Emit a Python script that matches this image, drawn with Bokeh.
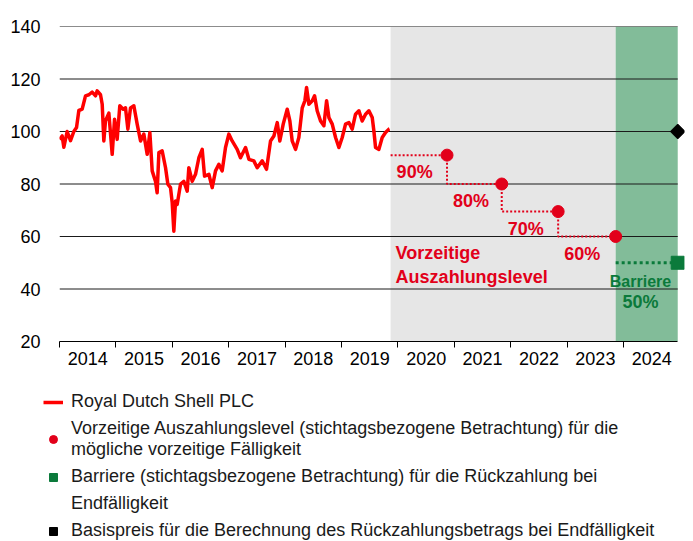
from bokeh.plotting import figure
from bokeh.layouts import column
from bokeh.models import Range1d, FixedTicker, BoxAnnotation, Legend, LegendItem
from bokeh.core.properties import value
from bokeh.embed import file_html
from bokeh.resources import INLINE

# ---------------- data ----------------
dates = [2014.000, 2014.047, 2014.077, 2014.136, 2014.195, 2014.254, 2014.302, 2014.343, 2014.402, 2014.461,
         2014.521, 2014.579, 2014.639, 2014.668, 2014.727, 2014.757, 2014.786, 2014.815, 2014.875, 2014.934,
         2014.976, 2015.022, 2015.069, 2015.129, 2015.170, 2015.212, 2015.259, 2015.318, 2015.377, 2015.437,
         2015.495, 2015.555, 2015.602, 2015.643, 2015.702, 2015.731, 2015.762, 2015.820, 2015.880, 2015.921,
         2015.968, 2015.998, 2016.027, 2016.057, 2016.086, 2016.146, 2016.204, 2016.264, 2016.293, 2016.353,
         2016.411, 2016.471, 2016.530, 2016.571, 2016.648, 2016.707, 2016.766, 2016.825, 2016.884, 2016.943,
         2017.002, 2017.061, 2017.150, 2017.209, 2017.298, 2017.358, 2017.445, 2017.505, 2017.594, 2017.670,
         2017.741, 2017.801, 2017.860, 2017.906, 2017.966, 2018.037, 2018.084, 2018.125, 2018.185, 2018.243,
         2018.303, 2018.350, 2018.380, 2018.421, 2018.481, 2018.522, 2018.568, 2018.628, 2018.687, 2018.735,
         2018.776, 2018.835, 2018.894, 2018.953, 2019.012, 2019.071, 2019.130, 2019.189, 2019.248, 2019.308,
         2019.366, 2019.426, 2019.485, 2019.544, 2019.573, 2019.603, 2019.662, 2019.721, 2019.780, 2019.840,
         2019.851]
prices = [97, 98.3, 94, 100, 96.5, 100, 101.5, 108, 108.5, 113.6,
          114, 115, 113.6, 115.5, 114, 110.4, 96.4, 104, 107, 91.3,
          104.7, 97, 109.8, 108.5, 109, 100.9, 109, 109.8, 102.8, 96.4,
          99, 91.3, 99.6, 85, 81, 76.7, 92, 92.6, 86.2, 79.9,
          78.6, 72.9, 62, 73.5, 72.2, 80, 81, 77.3, 86.2, 81,
          83.7, 90, 93.2, 83, 83.7, 78.6, 85, 87.5, 85, 93.9,
          99, 96.4, 93.2, 90, 93.9, 89.4, 88.8, 86.2, 88.8, 85.6,
          96.4, 98.3, 103.4, 96.4, 102.8, 108.5, 104, 96.4, 93.2, 97.7,
          109, 111.7, 116.8, 110.4, 111.7, 113.6, 107.9, 104, 102.2, 111.7,
          105.3, 102.8, 97.7, 93.9, 97.7, 102.8, 103.4, 100.9, 106.6, 107.9,
          104, 106.6, 107.9, 105.3, 100.3, 93.9, 93.2, 97.7, 99.6, 100.9,
          101]

product_start = 2019.87
obs_dates = [2020.87, 2021.84, 2022.84, 2023.86]
autocall_levels = [91, 80, 69.5, 60]
autocall_labels = ["90%", "80%", "70%", "60%"]
maturity = 2024.96
barrier_level = 50
strike_level = 100
years = [2014, 2015, 2016, 2017, 2018, 2019, 2020, 2021, 2022, 2023, 2024]
year_labels = ["2014", "2015", "2016", "2017", "2018", "2019", "2020", "2021", "2022", "2023", "2024"]
y_ticks = [20, 40, 60, 80, 100, 120, 140]
legend_labels = [
    "Royal Dutch Shell PLC",
    "Vorzeitige Auszahlungslevel (stichtagsbezogene Betrachtung) für die\nmögliche vorzeitige Fälligkeit",
    "Barriere (stichtagsbezogene Betrachtung) für die Rückzahlung bei",
    "Endfälligkeit",
    "Basispreis für die Berechnung des Rückzahlungsbetrags bei Endfälligkeit",
]

# ---------------- styling ----------------
FONT = "Liberation Sans"
RED_LINE = "#FF0000"
RED = "#E2001A"
GREEN = "#0B7A3B"
GREY_BAND = "#E6E6E6"
GREEN_BAND = "#82BC99"
H_MAIN = 375

p = figure(width=693, height=H_MAIN,
           x_range=Range1d(2014, 2025.08), y_range=Range1d(20, 140),
           output_backend="svg", toolbar_location=None,
           min_border_left=59, min_border_right=9, min_border_top=26,
           min_border_bottom=H_MAIN - 341)
p.frame_align = False
p.outline_line_color = None
p.xgrid.visible = False
p.ygrid.visible = False

# bands
p.add_layout(BoxAnnotation(left=product_start, right=obs_dates[-1], fill_color=GREY_BAND,
                           fill_alpha=1, line_color=None, level="underlay"))
p.add_layout(BoxAnnotation(left=obs_dates[-1], right=maturity, fill_color=GREEN_BAND,
                           fill_alpha=1, line_color=None, level="underlay"))

# horizontal grid lines (drawn over the bands)
grid_y = y_ticks[1:]
p.segment(x0=[years[0]] * len(grid_y), x1=[maturity] * len(grid_y), y0=grid_y, y1=grid_y,
          line_color="#1a1a1a", line_width=1)

# price line
p.line(dates, prices, line_color=RED_LINE, line_width=3.5, line_join="round")

# autocall step
step_x = [product_start]
step_y = [autocall_levels[0]]
for i, d in enumerate(obs_dates):
    step_x.append(d)
    step_y.append(autocall_levels[i])
    if i + 1 < len(obs_dates):
        step_x.append(d)
        step_y.append(autocall_levels[i + 1])
p.line(step_x, step_y, line_color=RED, line_width=2, line_dash="2 2")
p.scatter(obs_dates, autocall_levels, size=12, color=RED)

seg_starts = [product_start] + obs_dates[:-1]
p.text(x=seg_starts, y=autocall_levels, text=autocall_labels, x_offset=6, y_offset=17,
       text_font=value(FONT), text_font_size="18px", text_font_style="bold",
       text_color=RED, text_baseline="middle", text_align="left")
p.text(x=[product_start], y=[49], text=["Vorzeitige\nAuszahlungslevel"], x_offset=5,
       text_font=value(FONT), text_font_size="18px", text_font_style="bold",
       text_color=RED, text_baseline="middle", text_align="left", text_line_height=1.2)

# barrier
p.line([obs_dates[-1], maturity], [barrier_level, barrier_level], line_color=GREEN,
       line_width=3, line_dash="3 3")
p.scatter([maturity], [barrier_level], marker="square", size=13, color=GREEN)
p.text(x=[2024.3], y=[42.9], text=["Barriere"], text_font=value(FONT), text_font_size="16px",
       text_font_style="bold", text_color=GREEN, text_baseline="middle", text_align="center")
p.text(x=[2024.3], y=[35], text=["50%"], text_font=value(FONT), text_font_size="18px",
       text_font_style="bold", text_color=GREEN, text_baseline="middle", text_align="center")

# strike
p.scatter([maturity], [strike_level], marker="square", angle=0.785398, size=10.5, color="black")

# axes
yax = p.yaxis[0]
yax.ticker = FixedTicker(ticks=y_ticks)
yax.axis_line_color = None
yax.major_tick_line_color = None
yax.minor_tick_line_color = None
yax.major_label_standoff = 13
yax.major_label_text_font = FONT
yax.major_label_text_font_size = "18px"
yax.major_label_text_color = "black"

xax = p.xaxis[0]
mids = [y + 0.5 for y in years]
xax.ticker = FixedTicker(ticks=mids, minor_ticks=years)
xax.major_label_overrides = {m: lab for m, lab in zip(mids, year_labels)}
xax.bounds = (years[0], maturity)
xax.axis_line_color = "black"
xax.axis_line_width = 1
xax.major_tick_line_color = None
xax.major_tick_out = 6
xax.major_tick_in = 0
xax.minor_tick_line_color = "black"
xax.minor_tick_out = 6
xax.minor_tick_in = 0
xax.major_label_standoff = 4
xax.major_label_text_font = FONT
xax.major_label_text_font_size = "18px"
xax.major_label_text_color = "black"

# ---------------- legend panel ----------------
lg = figure(width=693, height=541 - H_MAIN, x_range=Range1d(0, 1), y_range=Range1d(0, 1),
            x_axis_location=None, y_axis_location=None,
            output_backend="svg", toolbar_location=None,
            min_border_left=43, min_border_top=16, min_border_right=0, min_border_bottom=0)
lg.frame_align = False
lg.grid.visible = False
lg.outline_line_color = None
# legend proxies reuse the chart data; it lies outside this panel's 0..1 ranges
r_line = lg.line(x=dates, y=prices, line_color=RED_LINE, line_width=3.5)
r_circ = lg.scatter(x=obs_dates, y=autocall_levels, size=12, color=RED)
r_sq = lg.scatter(x=[maturity], y=[barrier_level], marker="square", size=11, color=GREEN)
r_none = lg.scatter(x=[maturity], y=[barrier_level], size=1, alpha=0)
r_dia = lg.scatter(x=[maturity], y=[strike_level], marker="square", angle=0.785398, size=9.5, color="black")
legend = Legend(items=[LegendItem(label=lab, renderers=[r])
                       for lab, r in zip(legend_labels, [r_line, r_circ, r_sq, r_none, r_dia])])
legend.location = "top_left"
legend.margin = 0
legend.padding = 0
legend.spacing = 6
legend.border_line_color = None
legend.background_fill_alpha = 0
legend.glyph_width = 20
legend.glyph_height = 20
legend.label_height = 20
legend.label_standoff = 8
legend.label_text_font = FONT
legend.label_text_font_size = "18px"
legend.label_text_color = "#1a1a1a"
lg.add_layout(legend, "center")

layout = column(p, lg, spacing=0)
open("out.html", "w").write(file_html(layout, INLINE))
